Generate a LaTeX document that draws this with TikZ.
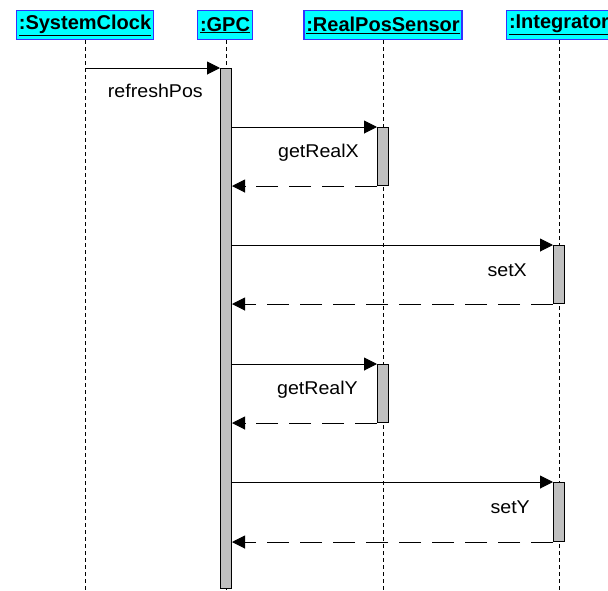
\documentclass[tikz,border=0pt]{standalone}
\usepackage{fontspec}
\setmainfont{Liberation Sans}
\usetikzlibrary{arrows.meta}
\definecolor{headfill}{RGB}{0,255,255}
\definecolor{headline}{RGB}{50,50,255}
\definecolor{actfill}{RGB}{192,192,192}
\tikzset{
  objhead/.style={draw=headline, line width=1.4pt, fill=headfill, inner xsep=2.5pt,
    inner ysep=0pt, minimum height=29pt, anchor=north,
    font=\fontsize{20}{22}\selectfont\bfseries},
  lifeline/.style={line width=1pt, dash pattern=on 3.5pt off 3.5pt},
  actbar/.style={draw=black, line width=1pt, fill=actfill},
  callmsg/.style={line width=1pt, -{Triangle[length=13pt,width=13pt]}},
  retmsg/.style={line width=1pt, dash pattern=on 22pt off 11pt, -{Triangle[length=13pt,width=13pt]}},
  msglabel/.style={anchor=base east, inner sep=0pt, xscale=1.06,
    font=\fontsize{18.5}{20}\selectfont}
}
\begin{document}
\begin{tikzpicture}[x=1pt, y=-1pt]
\useasboundingbox (0,0) rectangle (608,590);
\clip (0,0) rectangle (608,590);
\fill[white] (0,0) rectangle (608,590);

% object headers
\node[objhead] (clk) at (85,10) {\underline{:SystemClock}};
\node[objhead] (gpc) at (225,10) {\underline{:GPC}};
\node[objhead] (rps) at (383,10) {\underline{:RealPosSensor}};
\node[objhead] (int) at (559,10) {\underline{:Integrator}};

% lifeline ends
\coordinate (clkE) at (85,590);
\coordinate (gpcE) at (226,590);
\coordinate (rpsE) at (383,590);
\coordinate (intE) at (559,590);

\draw[lifeline] (clk.south -| clkE) -- (clkE);
\draw[lifeline] (gpc.south -| gpcE) -- (gpcE);
\draw[lifeline] (rps.south -| rpsE) -- (rpsE);
\draw[lifeline] (int.south -| intE) -- (intE);

% activation bars
\node[actbar, inner sep=0pt, minimum width=11pt, minimum height=520pt, anchor=north west] (gpcA) at (220,68) {};
\node[actbar, inner sep=0pt, minimum width=11pt, minimum height=58pt, anchor=north west] (rpsA1) at (377,127) {};
\node[actbar, inner sep=0pt, minimum width=11pt, minimum height=58pt, anchor=north west] (intA1) at (553,245) {};
\node[actbar, inner sep=0pt, minimum width=11pt, minimum height=58pt, anchor=north west] (rpsA2) at (377,364) {};
\node[actbar, inner sep=0pt, minimum width=11pt, minimum height=59pt, anchor=north west] (intA2) at (553,482) {};

% refreshPos
\coordinate (clkS) at (85,68);
\draw[callmsg] (clkS) -- (gpcA.north west);
\node[msglabel] (lRefresh) at (203,97) {refreshPos};

% getRealX
\draw[callmsg] (gpcA.east |- rpsA1.north west) -- (rpsA1.north west);
\draw[retmsg] (rpsA1.south west) -- (gpcA.east |- rpsA1.south west);
\node[msglabel] (lGetX) at (359,157) {getRealX};

% setX
\draw[callmsg] (gpcA.east |- intA1.north west) -- (intA1.north west);
\draw[retmsg] (intA1.south west) -- (gpcA.east |- intA1.south west);
\node[msglabel] (lSetX) at (527,276) {setX};

% getRealY
\draw[callmsg] (gpcA.east |- rpsA2.north west) -- (rpsA2.north west);
\draw[retmsg] (rpsA2.south west) -- (gpcA.east |- rpsA2.south west);
\node[msglabel] (lGetY) at (358,394) {getRealY};

% setY
\draw[callmsg] (gpcA.east |- intA2.north west) -- (intA2.north west);
\draw[retmsg] (intA2.south west) -- (gpcA.east |- intA2.south west);
\node[msglabel] (lSetY) at (530,513) {setY};
\end{tikzpicture}
\end{document}
